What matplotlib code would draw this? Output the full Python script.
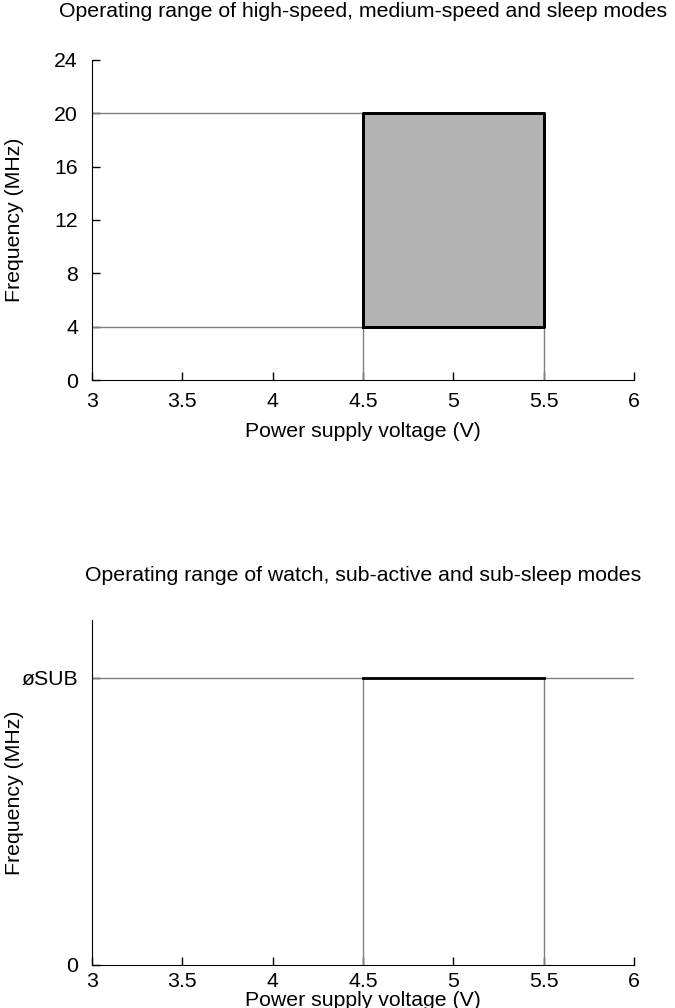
import numpy as np
import matplotlib
matplotlib.use("Agg")
import matplotlib.pyplot as plt

plt.rcParams['font.family'] = ['Liberation Sans', 'DejaVu Sans']

# data
volt_ticks = [3, 3.5, 4, 4.5, 5, 5.5, 6]
freq_ticks_top = [0, 4, 8, 12, 16, 20, 24]
v_min, v_max = 4.5, 5.5          # guaranteed supply range (V)
f_min, f_max = 4, 20             # high/medium speed frequency range (MHz)
f_sub = 1.0                      # subclock level (symbolic)
titles = ["Operating range of high-speed, medium-speed and sleep modes",
          "Operating range of watch, sub-active and sub-sleep modes"]

GREY = '#808080'
FS = 15.3

fig = plt.figure(figsize=(6.75, 10.08), dpi=100)
ax1 = fig.add_axes([0.1363, 0.623, 0.803, 0.3175])
ax2 = fig.add_axes([0.1363, 0.0427, 0.803, 0.3422])


def style(ax, xpad, labelpad):
    ax.spines['top'].set_visible(False)
    ax.spines['right'].set_visible(False)
    ax.tick_params(direction='in', length=6, width=1, labelsize=FS)
    ax.tick_params(axis='x', pad=xpad)
    ax.tick_params(axis='y', pad=10)
    ax.set_xlim(volt_ticks[0], volt_ticks[-1])
    ax.set_xticks(volt_ticks)
    ax.set_xticklabels([f"{v:g}" for v in volt_ticks])
    ax.set_xlabel("Power supply voltage (V)", fontsize=FS, labelpad=labelpad)
    ax.set_ylabel("Frequency (MHz)", fontsize=FS)
    ax.yaxis.set_label_coords(-68 / 542, 0.5)


# top chart
style(ax1, 8.8, 8)
ax1.set_ylim(freq_ticks_top[0], freq_ticks_top[-1])
ax1.set_yticks(freq_ticks_top)
ax1.hlines([f_min, f_max], volt_ticks[0], v_min, color=GREY, lw=1)
ax1.vlines([v_min, v_max], 0, f_min, color=GREY, lw=1)
ax1.fill_between([v_min, v_max], f_min, f_max, facecolor='#b3b3b3',
                 edgecolor='black', lw=2)
ax1.plot([v_min, v_max, v_max, v_min, v_min], [f_min, f_min, f_max, f_max, f_min],
         color='black', lw=2)
ax1.text(0.5, 1.0 + 48 / 320, titles[0], transform=ax1.transAxes,
         ha='center', va='center', fontsize=FS)

# bottom chart
style(ax2, 5, 0)
ax2.set_ylim(0, 1.2)
ax2.set_yticks([0, f_sub])
ax2.set_yticklabels(["0", "\u00f8SUB"])
ax2.hlines(f_sub, volt_ticks[0], volt_ticks[-1], color=GREY, lw=1)
ax2.vlines([v_min, v_max], 0, f_sub, color=GREY, lw=1)
ax2.plot([v_min, v_max], [f_sub, f_sub], color='black', lw=2)
ax2.text(0.5, 1.0 + 45 / 345, titles[1], transform=ax2.transAxes,
         ha='center', va='center', fontsize=FS)

fig.savefig("out.png", dpi=100)
